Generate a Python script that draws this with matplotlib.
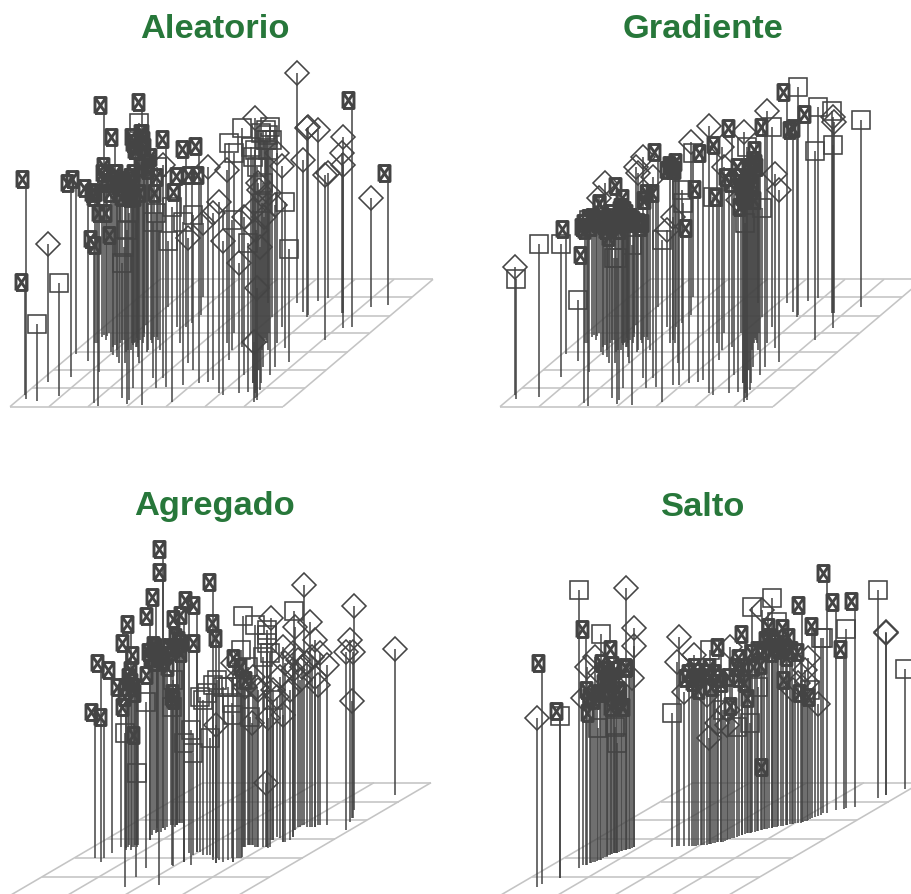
import numpy as np
import matplotlib
matplotlib.use("Agg")
import matplotlib.pyplot as plt
from matplotlib.path import Path

nan = float("nan")

# Aleatorio and Gradiente stand on the same floor points
shared_x = [75,78,110,143,147,177,212,229,264,281,
            285,294,298,313,321,328,340,345,356,366,
            372,382,388,395,400,407,412,418,425,437,
            445,460,463,467,475,490,497,505,515,530,
            540,550,558,563,575,580,597,603,610,623,
            640,657,670,680,688,695,703,717,725,733,
            745,752,758,762,766,770,775,780,786,795,
            803,810,815,824,830,845,856,866,892,910,
            920,924,953,975,983,1027,1028,1030,1032,1056,
            1112,1163,350,360,378,392,403,413,428,433,
            452,790,800,805,
            290,305,318,333,338,352,365,375,385,398,
            405,410,415,420,432,440,455,470,480,
            760,764,768,772,778,783,792,798,808,
            548,556,568]
shared_floor = [1035,1048,1052,997,1040,1037,980,912,932,1058,
                880,1068,965,855,858,850,915,885,940,1045,
                870,1062,1050,880,1015,890,865,940,1065,825,
                900,985,860,1015,870,985,1010,770,1055,830,
                880,1005,830,940,820,960,1000,795,740,995,
                990,1030,1035,880,930,900,850,1030,890,975,
                1025,850,1000,1055,1030,1040,960,1020,900,865,
                760,975,800,950,880,830,895,935,760,785,
                800,795,752,870,745,790,835,790,790,830,
                772,765,900,880,905,900,880,920,880,860,
                870,950,880,900,
                880,860,870,905,890,920,870,940,900,885,
                875,890,880,870,850,905,880,860,900,
                1000,1045,1020,1050,960,1000,880,870,850,
                870,880,1005]

aleatorio_top = [695,388,822,583,nan,698,400,388,413,568,
                 430,585,425,165,348,488,555,260,370,640,
                 590,540,490,390,430,280,370,218,155,250,
                 290,515,320,490,430,345,268,573,470,425,
                 378,515,297,565,375,495,287,375,520,350,
                 490,455,572,360,280,510,310,640,233,500,
                 580,290,320,875,205,715,400,590,460,270,
                 255,230,270,465,310,347,455,597,68,330,
                 235,232,240,375,370,310,345,262,nan,150,
                 445,370,390,370,400,430,380,300,430,350,
                 360,400,270,300,
                 440,490,370,400,430,390,410,440,400,445,
                 260,400,440,300,250,270,340,350,380,
                 480,300,540,350,420,250,500,240,430,
                 nan,nan,nan]
aleatorio_kind = ("bbsd.sbbbb" "bbbbbbbbbs" "sssbbbbsbb" "bsbsbdbssb" "bsbdbsbbdd"
                  "ddddsssdsd" "sssdddddss" "sssdddssdd" "dddddddd.b" "dbbbbbbbbb" "bsss"
                  "bbbbbbbbbb" "bbbbbbbsb" "dsdsdsdsd" "...")

gradiente_top = [650,688,nan,nan,581,nan,583,537,750,614,
                 530,540,510,530,510,445,463,400,540,560,
                 625,625,408,540,540,445,500,500,585,352,
                 370,322,530,520,450,380,430,307,570,540,
                 360,500,360,360,420,460,533,275,310,418,
                 310,228,442,285,442,290,350,380,235,400,
                 450,350,380,245,520,290,410,450,380,410,
                 450,350,475,230,182,230,372,420,127,240,
                 233,110,192,302,172,183,285,202,215,nan,
                 211,nan,510,540,500,510,470,480,520,500,
                 520,350,330,300,
                 520,505,500,520,460,525,510,490,520,480,
                 470,510,520,490,500,510,515,450,430,
                 470,410,440,420,430,390,360,400,340,
                 345,350,335]
gradiente_kind = ("ds..s.sbsb" "bbsbbdbdbb" "ssbbbbbbsd" "ddbbbdbbsd" "bdbbssbdsb"
                  "bdsbbddbbb" "dbbdssbbbb" "bbsbdsddbb" "bsbssssdd." "s.bbbbbbbb" "bbbb"
                  "bbbbbbbbbb" "bbbbbbbbb" "bbbbbbbbb" "bbb")

agregado_x = [285,302,312,337,364,375,379,377,387,393,
              402,407,410,412,412,438,449,449,467,472,
              477,482,488,490,502,512,527,532,532,537,
              539,552,552,552,553,568,573,580,590,590,
              600,630,639,640,648,648,657,700,700,712,
              722,730,732,745,747,750,757,760,765,770,
              797,800,800,800,805,813,820,820,850,850,
              870,880,880,883,885,905,913,930,945,955,
              960,980,1037,1050,1057,1060,1062,1186,
              456,462,470,475,495,520,530,545,395,405,
              415,385,525,515,518,610,620,650,670,685,
              695,718,725,735,775,790,810,830,840,855,
              895,900,920,935,945]
agregado_floor = [985,995,985,968,950,1072,960,955,945,960,
                  950,1042,950,945,945,1015,930,930,910,895,
                  1065,905,895,895,890,885,885,885,885,880,
                  880,880,995,995,995,970,1005,975,965,965,
                  965,975,980,990,998,998,990,995,995,985,
                  985,950,950,945,945,945,945,945,950,950,
                  950,950,950,950,955,930,930,930,935,935,
                  930,920,920,900,900,885,885,890,890,885,
                  885,885,900,875,865,865,840,795,
                  915,900,905,905,900,885,885,880,950,945,
                  945,950,890,1005,1008,975,975,985,995,990,
                  985,985,980,950,950,950,950,920,925,935,
                  890,890,890,890,890]
agregado_top = [547,400,562,420,470,610,530,340,470,283,
                420,375,730,470,614,515,257,435,200,360,
                350,380,58,125,390,410,490,510,268,320,
                350,255,340,370,638,210,600,670,226,338,
                500,625,156,465,280,585,325,555,400,385,
                360,258,410,410,450,560,578,440,285,470,
                760,315,340,300,565,265,510,480,555,350,
                480,420,370,242,290,410,165,275,330,465,
                370,405,365,330,513,365,228,357,
                365,385,345,395,375,350,355,330,440,455,
                490,500,500,530,450,510,490,450,470,470,
                520,440,470,470,480,380,370,500,440,400,
                390,450,400,380,440]
agregado_kind = ("bbbbbsbbbb" "bbsbbsbbbb" "bbbbbbbbbb" "bbbbsbssbb" "ssbsbdbsdb"
                 "ssbsbsddsd" "dsssddsddd" "dddsdddddd" "dddddddd"
                 "bbbbbbbbbb" "bbbsssssss" "sdsddssddd" "ddddd")

salto_x = [142,156,211,211,268,278,289,292,304,315,
           325,330,333,340,350,355,362,372,372,375,
           380,382,397,408,412,417,425,432,433,545,
           560,566,583,597,612,632,637,650,657,660,
           662,680,692,694,710,720,732,757,757,764,
           780,782,787,812,815,822,824,845,845,860,
           872,887,892,892,910,932,937,950,955,960,
           967,974,985,992,1000,1012,1037,1062,1068,1094,
           1163,1187,1187,1244,
           300,310,320,345,352,360,367,377,387,392,
           402,407,420,
           605,618,625,642,670,675,685,700,705,715,
           727,740,748,770,775,795,800,805,830,838,
           850,855,865,878,900,905,915,925,940,945]
salto_floor = [1010,1003,983,983,955,945,945,945,938,935,
               930,930,930,925,920,915,912,910,910,910,
               908,908,902,900,898,897,895,892,892,890,
               888,888,888,888,888,885,885,885,882,882,
               882,875,875,875,870,866,865,855,855,852,
               848,848,847,840,840,838,838,833,833,830,
               828,826,825,825,822,818,817,812,810,808,
               805,800,797,795,790,790,780,778,775,770,
               745,735,735,718,
               940,936,933,922,918,915,912,909,905,903,
               900,900,896,
               888,888,886,885,880,878,875,875,872,868,
               865,860,858,850,850,845,843,842,838,835,
               832,830,829,828,823,823,820,818,815,814]
salto_top = [505,338,484,498,121,445,237,352,490,320,
             535,370,253,430,430,360,360,297,470,530,
             580,400,420,113,470,350,385,287,233,490,
             335,260,425,385,315,365,420,435,565,300,
             370,520,385,292,525,290,467,325,385,252,
             520,445,172,300,180,345,650,145,232,215,
             290,235,290,390,420,305,165,395,325,420,
             440,228,462,265,265,70,157,297,236,152,
             121,245,250,357,
             420,440,450,340,400,420,380,345,360,450,
             430,470,355,
             370,395,350,380,350,410,370,480,400,480,
             380,530,350,350,400,310,350,410,300,270,
             260,310,280,300,320,260,300,400,430,360]
salto_kind = ("dbbssdbdbd" "sdsbbbbbbs" "sbbdbbddds" "dddbdbbdds" "bdbbddbbbb"
              "sbsbdbbsbs" "bbbbdbbdds" "bbdssbbbsb" "sdds"
              "bbbbbbbbbb" "bbb"
              "bbbbbbbsbd" "bsbbbbbsbb" "bbbbbbbdbd")

titles = ["Aleatorio", "Gradiente", "Agregado", "Salto"]

ink = "#444444"
grid_grey = "#c4c4c4"
title_green = "#27773a"

# x box glyph, a tall box with a cross through it
box_verts = [(-5.5,-8),(5.5,-8),(5.5,8),(-5.5,8),(-5.5,-8),(-5.5,-8),(5.5,8),(5.5,-8),(-5.5,8)]
box_codes = [Path.MOVETO,Path.LINETO,Path.LINETO,Path.LINETO,Path.LINETO,
             Path.MOVETO,Path.LINETO,Path.MOVETO,Path.LINETO]
box_marker = Path(box_verts, box_codes)


def make_axes(fig, left, top, w, h):
    # one axes unit is a third of a pixel
    ax = fig.add_axes([left/911, 1-(top+h)/894, w/911, h/894])
    ax.set_xlim(0, w*3)
    ax.set_ylim(h*3, 0)
    ax.axis("off")
    return ax


def draw_floor(ax, rows, x_back, slope, y_end):
    y_back = rows[0]
    for r in rows:
        ax.plot([x_back[0]-(r-y_back)*slope, x_back[-1]-(r-y_back)*slope], [r, r],
                color=grid_grey, lw=1.15, zorder=1, solid_capstyle="butt")
    for xb in x_back:
        ax.plot([xb, xb-(y_end-y_back)*slope], [y_back, y_end],
                color=grid_grey, lw=1.15, zorder=1, solid_capstyle="butt")


def draw_stems(ax, x, floor, top, kind):
    x = np.array(x, dtype=float)
    floor = np.array(floor, dtype=float)
    top = np.array(top, dtype=float)
    kind = np.array(list(kind))
    ok = ~np.isnan(top)
    x, floor, top, kind = x[ok], floor[ok], top[ok], kind[ok]
    is_box = kind == "b"
    # the stem stops under the box but runs to the centre of the others
    stem_end = np.where(is_box, top+29, top)
    ax.vlines(x, stem_end, floor, color=ink, lw=1.1, zorder=2)
    ax.plot(x[kind == "s"], top[kind == "s"], ls="", marker="s", ms=12.4, mfc="none",
            mec=ink, mew=1.15, zorder=3)
    ax.plot(x[kind == "d"], top[kind == "d"], ls="", marker="D", ms=12.6, mfc="none",
            mec=ink, mew=1.15, zorder=3)
    ax.plot(x[is_box]-12, top[is_box], ls="", marker=box_marker, ms=11.5, mfc="none",
            mec=ink, mew=2.1, zorder=4)


fig = plt.figure(figsize=(9.11, 8.94), dpi=100)
plt.rcParams["font.family"] = ["Liberation Sans", "DejaVu Sans"]

rows_top = [688,742,797,850,905,960,1015,1070]
back_top = [480+117*i for i in range(8)]
rows_bottom = [758,815,870,927,983,1040]
back_bottom = [609+171*i for i in range(5)]

ax1 = make_axes(fig, 0, 50, 440, 370)
draw_floor(ax1, rows_top, back_top, 450/382, 1070)
draw_stems(ax1, shared_x, shared_floor, aleatorio_top, aleatorio_kind)

ax2 = make_axes(fig, 490, 50, 440, 370)
draw_floor(ax2, rows_top, back_top, 450/382, 1070)
draw_stems(ax2, shared_x, shared_floor, gradiente_top, gradiente_kind)

ax3 = make_axes(fig, 0, 530, 440, 364)
draw_floor(ax3, rows_bottom, back_bottom, 1.71, 1100)
draw_stems(ax3, agregado_x, agregado_floor, agregado_top, agregado_kind)

ax4 = make_axes(fig, 490, 550, 440, 344)
draw_floor(ax4, [r-60 for r in rows_bottom], back_bottom, 1.71, 1040)
draw_stems(ax4, salto_x, salto_floor, salto_top, salto_kind)

title_pos = [(215, 29), (703, 29), (215, 507), (703, 507)]
for t, (px, py) in zip(titles, title_pos):
    fig.text(px/911, 1-py/894, t, ha="center", va="center", fontsize=24.8,
             fontweight="bold", color=title_green)

fig.savefig("out.png", dpi=100)
